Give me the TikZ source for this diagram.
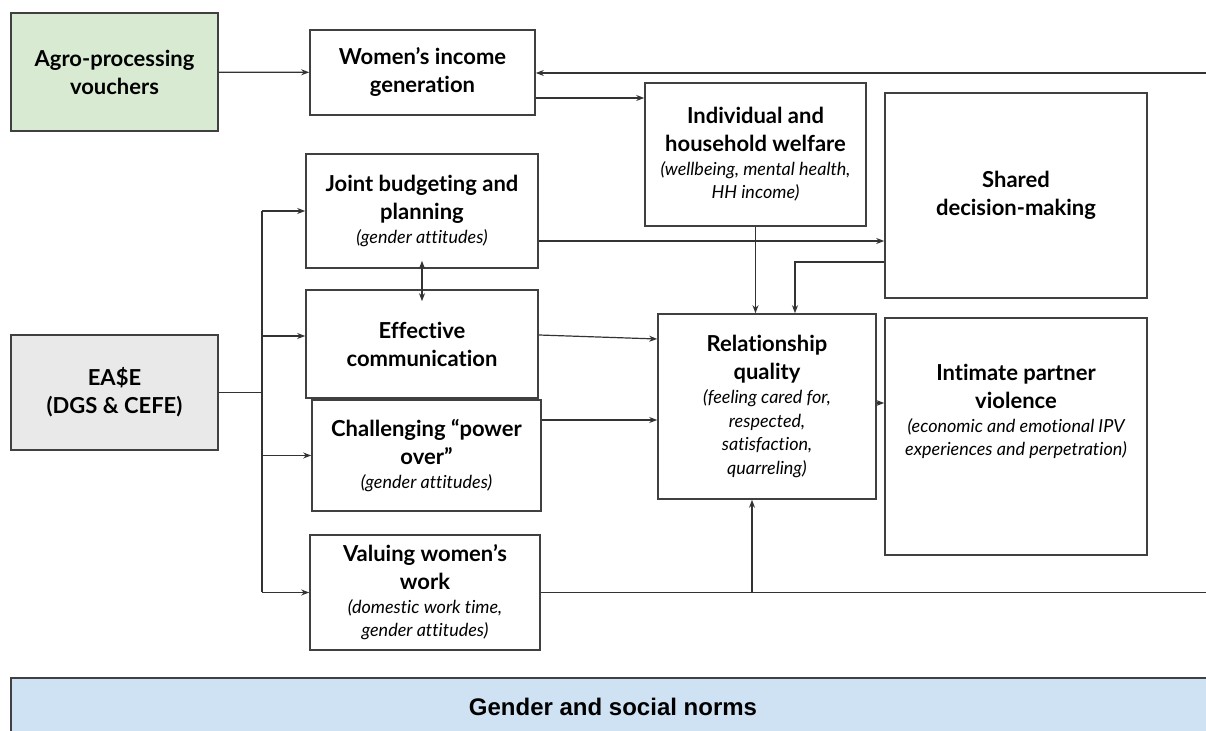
\documentclass[tikz,border=0pt]{standalone}
\usepackage{fontspec}
\setmainfont{Lato}[Ligatures=NoCommon]
\newfontfamily\normsfont{Liberation Sans}
\usetikzlibrary{positioning,arrows.meta}
\definecolor{agrogreen}{HTML}{D9EAD3}
\definecolor{easegray}{HTML}{E9E9E9}
\definecolor{normsblue}{HTML}{CFE2F3}
\newcommand{\boxtitle}[1]{{\bfseries\fontsize{11}{14}\selectfont #1\par}}
\newcommand{\boxnote}[1]{{\itshape\fontsize{9}{11.8}\selectfont #1\par}}

\begin{document}
\begin{tikzpicture}[x=0.5pt,y=-0.5pt,
  box/.style={draw=black!75,line width=0.8pt,align=flush center,inner sep=2pt},
  link/.style={draw=black!80,line width=0.6pt},
  >={Stealth[length=4pt,width=3pt]}]
\useasboundingbox (0,0) rectangle (1206,731);

% boxes
\node[box,fill=agrogreen,minimum width=103.5pt,minimum height=59pt,text width=96pt] (agro) at (114.5,72) {\boxtitle{Agro-processing\\vouchers}};
\node[box,minimum width=112.5pt,minimum height=42.5pt,text width=105pt] (women) at (422.5,72.5) {\boxtitle{Women's income\\generation}};
\node[box,minimum width=110.5pt,minimum height=71.5pt,text width=103pt] (indiv) at (755.5,154.5) {\boxtitle{Individual and\\household welfare}\boxnote{(wellbeing, mental health,\\HH income)}};
\node[box,minimum width=131pt,minimum height=102.5pt,text width=123pt] (shared) at (1016,195.5) {\boxtitle{Shared\\decision-making}};
\node[box,minimum width=116pt,minimum height=57pt,text width=108pt] (joint) at (422,211) {\boxtitle{Joint budgeting and\\planning}\boxnote{(gender attitudes)}};
\node[box,minimum width=116pt,minimum height=54pt,text width=108pt] (effect) at (422,344) {\boxtitle{Effective\\communication}};
\node[box,fill=easegray,minimum width=103.5pt,minimum height=57.5pt,text width=96pt] (ease) at (114.5,392.5) {\boxtitle{EA\$E\\(DGS \& CEFE)}};
\node[box,minimum width=114.5pt,minimum height=55.5pt,text width=107pt] (chall) at (426.5,455.5) {\boxtitle{Challenging ``power\\over''}\boxnote{(gender attitudes)}};
\node[box,minimum width=109pt,minimum height=92.5pt,text width=101pt] (relq) at (767,406.5) {\boxtitle{Relationship\\quality}\boxnote{(feeling cared for,\\respected,\\satisfaction,\\quarreling)}};
\node[box,minimum width=131pt,minimum height=118.5pt] (ipv) at (1016,436.5) {};
\node[align=flush center,text width=123pt,below=20pt of ipv.north] (ipvtext) {\boxtitle{Intimate partner\\violence}\boxnote{(economic and emotional IPV\\experiences and perpetration)}};
\node[box,minimum width=115pt,minimum height=57.5pt,text width=107pt] (valu) at (425,592.5) {\boxtitle{Valuing women's\\work}\boxnote{(domestic work time,\\gender attitudes)}};
\node[box,fill=normsblue,minimum width=602pt,minimum height=29pt] (norms) at (613,707) {\normsfont\bfseries\fontsize{12}{14}\selectfont Gender and social norms};

% free ends
\coordinate (topR) at (1206,73);
\coordinate (botR) at (1206,592.5);
\coordinate (bus) at (262,392.5);

% connectors
\draw[link,->] (agro) -- (women);
\draw[link,->] (topR) -- (topR -| women.east);
\draw[link,->] ([yshift=-12.75pt]women.east) -- ([yshift=-12.75pt]women.east -| indiv.west);
\draw[link,->] ([yshift=-15pt]joint.east) -- ([yshift=-15pt]joint.east -| shared.west);
\draw[link,->] ([yshift=-33.25pt]shared.west) -| ([xshift=14pt]relq.north);
\draw[link,->] (indiv.south) -- (indiv.south |- relq.north);
\draw[link,<->] ([yshift=4pt]joint.south) -- ([yshift=-6pt]effect.north);
\draw[link,->] ([yshift=4.5pt]effect.east) -- ([yshift=33.75pt]relq.west);
\draw[link,->] ([yshift=17.75pt]chall.east) -- ([yshift=17.75pt]chall.east -| relq.west);
\draw[link,->] ([yshift=1.75pt]relq.east) -- ([yshift=1.75pt]relq.east -| ipv.west);
\draw[link] (valu.east) -- (botR);
\draw[link,->] ([xshift=-7.5pt]relq.south |- valu.east) -- ([xshift=-7.5pt]relq.south);

% EA$E branches
\draw[link] (ease.east) -- (bus);
\draw[link] (bus |- joint.west) -- (bus |- valu.west);
\foreach \n in {joint,chall,valu}
  \draw[link,->] (bus |- \n.west) -- (\n.west);
\draw[link,->] ([yshift=4pt]bus |- effect.west) -- ([yshift=4pt]effect.west);
\end{tikzpicture}
\end{document}
